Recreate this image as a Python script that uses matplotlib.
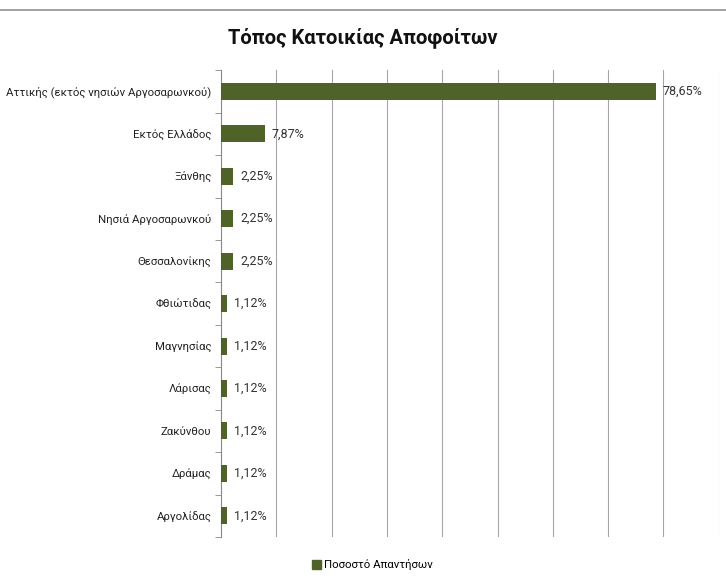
import matplotlib.pyplot as plt
from matplotlib.lines import Line2D
from matplotlib.patches import Patch

plt.rcParams['font.family'] = ['Roboto', 'DejaVu Sans']

categories = ['Αττικής (εκτός νησιών Αργοσαρωνκού)', 'Εκτός Ελλάδος', 'Ξάνθης',
              'Νησιά Αργοσαρωνκού', 'Θεσσαλονίκης', 'Φθιώτιδας', 'Μαγνησίας',
              'Λάρισας', 'Ζακύνθου', 'Δράμας', 'Αργολίδας']
values = [78.65, 7.87, 2.25, 2.25, 2.25, 1.12, 1.12, 1.12, 1.12, 1.12, 1.12]
series_name = 'Ποσοστό Απαντήσων'
bar_color = '#4f6228'

fig = plt.figure(figsize=(7.26, 5.8), dpi=100)
ax = fig.add_axes([0.3044, 0.074, 0.6856, 0.805])

pos = list(range(len(categories)))
ax.barh(pos, values, height=0.4, color=bar_color, zorder=3)
for p, v in zip(pos, values):
    ax.annotate(f'{v:.2f}%'.replace('.', ','), (v, p), xytext=(5, 0),
                textcoords='offset points', va='center', ha='left',
                fontsize=9, color='#333333')

ax.set_xlim(0, 90)
ax.set_ylim(len(categories) - 0.5, -0.5)
ax.set_xticks(range(10, 91, 10))
ax.tick_params(axis='x', length=0, labelbottom=False)
ax.grid(axis='x', color='#a6a6a6', linewidth=0.8, zorder=0)

ax.set_yticks(pos)
ax.set_yticklabels(categories, fontsize=8.2, color='#222222')
ax.set_yticks([p - 0.5 for p in pos] + [len(pos) - 0.5], minor=True)
ax.tick_params(axis='y', which='major', length=0, pad=7)
ax.tick_params(axis='y', which='minor', length=4, color='#888888')

for s in ['top', 'right', 'bottom']:
    ax.spines[s].set_visible(False)
ax.spines['left'].set_color('#888888')

fig.text(0.5, 0.935, 'Τόπος Κατοικίας Αποφοίτων', ha='center', va='center',
         fontsize=14.5, fontweight='bold', color='#111111')
fig.add_artist(Line2D([0, 1], [0.983, 0.983], color='#909090', linewidth=1.2))

fig.legend([Patch(color=bar_color)], [series_name], loc='center',
           bbox_to_anchor=(0.513, 0.026), frameon=False, fontsize=8.2,
           handlelength=0.8, handleheight=0.8, handletextpad=0.3)

fig.savefig('out.png', dpi=100)
